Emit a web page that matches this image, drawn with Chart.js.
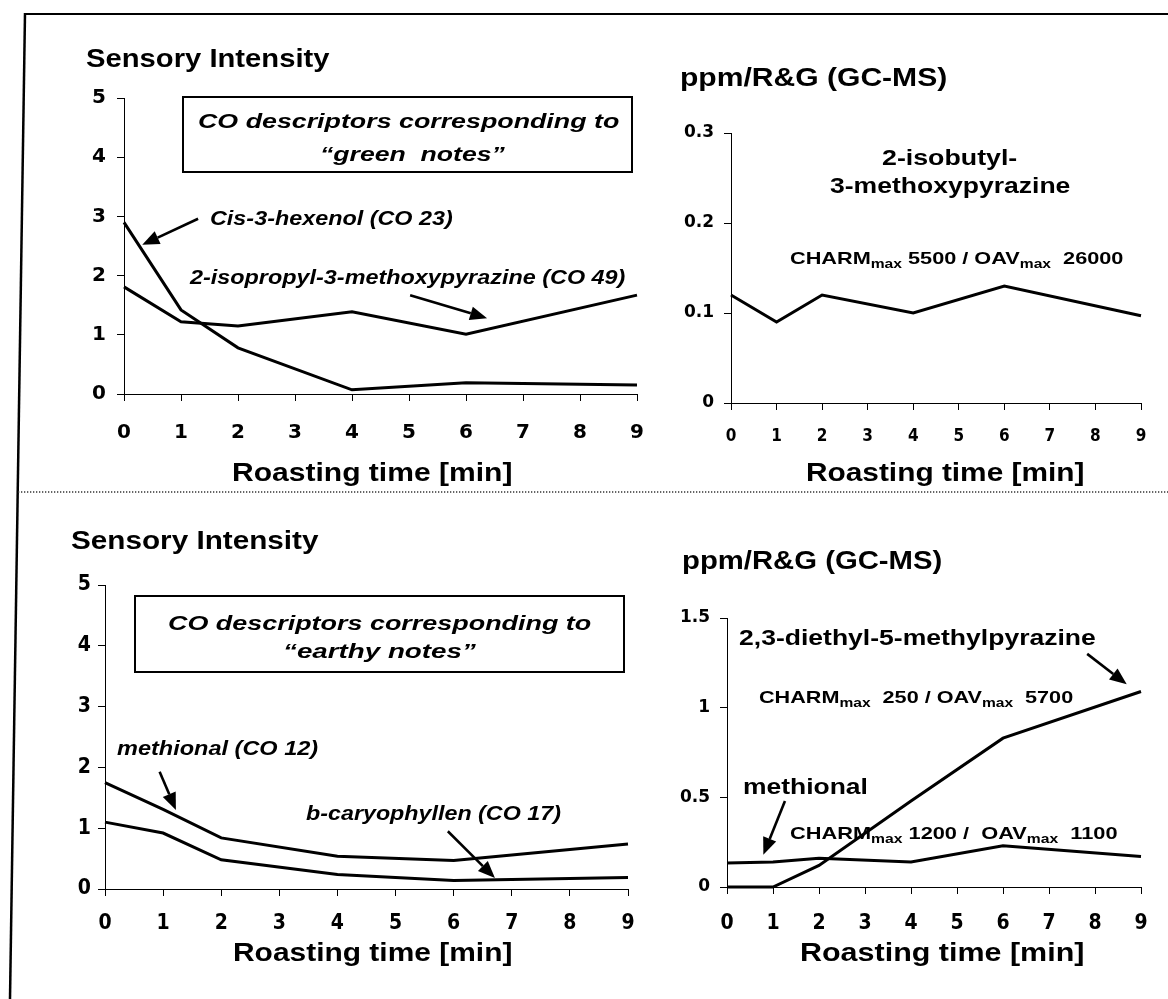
<!DOCTYPE html>
<html><head><meta charset="utf-8">
<script src="https://cdn.jsdelivr.net/npm/chart.js@4.4.0/dist/chart.umd.min.js"></script>
<style>
html,body{margin:0;padding:0;background:#fff;}
#wrap{position:relative;width:1168px;height:999px;overflow:hidden;background:#fff;}
canvas.c{position:absolute;left:0;top:0;}
.t{position:absolute;white-space:nowrap;line-height:1;color:#000;font-family:"Liberation Sans",Arial,sans-serif;font-weight:bold;transform-origin:0 50%;}
.i{font-style:italic;}
.box{position:absolute;border:2px solid #000;box-sizing:border-box;}
.t sub{font-size:0.72em;vertical-align:-0.35em;line-height:0;}
</style></head>
<body><div id="wrap">
<svg width="1168" height="999" style="position:absolute;left:0;top:0">
<line x1="25" y1="14" x2="1168" y2="14" stroke="#000" stroke-width="2"/>
<line x1="25" y1="13" x2="10" y2="999" stroke="#000" stroke-width="2.5"/>
<line x1="18" y1="492" x2="1168" y2="492" stroke="#333" stroke-width="1.3" stroke-dasharray="1.3 1.7"/>
</svg>
<canvas class="c" id="c1" width="1168" height="999"></canvas>
<canvas class="c" id="c2" width="1168" height="999"></canvas>
<canvas class="c" id="c3" width="1168" height="999"></canvas>
<canvas class="c" id="c4" width="1168" height="999"></canvas>
</div>
<script>
// ---------- data ----------
const roastTimes = [0, 1, 2, 4, 6, 9];
const xTickLabels = [0, 1, 2, 3, 4, 5, 6, 7, 8, 9];
const sensoryTicks = [0, 1, 2, 3, 4, 5];
const gcmsTicksTop = [0, 0.1, 0.2, 0.3];
const gcmsTicksBottom = [0, 0.5, 1, 1.5];
const cis3Hexenol = [2.9, 1.42, 0.78, 0.07, 0.19, 0.15];
const isopropylMethoxypyrazine = [1.81, 1.22, 1.15, 1.39, 1.01, 1.67];
const isobutylMethoxypyrazine = [0.12, 0.09, 0.12, 0.10, 0.13, 0.097];
const methionalSensory = [1.75, 1.31, 0.84, 0.54, 0.47, 0.74];
const caryophyllenSensory = [1.10, 0.92, 0.48, 0.24, 0.14, 0.19];
const diethylMethylpyrazine = [0, 0, 0.12, 0.48, 0.83, 1.09];
const methionalGCMS = [0.134, 0.14, 0.16, 0.14, 0.23, 0.17];

// ---------- helpers ----------
const W = 1168, H = 999;
const wrap = document.getElementById('wrap');
const arrowSets = {};
const arrowPlugin = {
  id: 'arrowsAnno',
  afterDatasetsDraw(chart) {
    const list = arrowSets[chart.canvas.id] || [];
    const ctx = chart.ctx, xs = chart.scales.x, ys = chart.scales.y;
    ctx.save();
    ctx.strokeStyle = '#000'; ctx.fillStyle = '#000'; ctx.lineWidth = 2.6; ctx.lineCap = 'butt';
    list.forEach(a => {
      const x1 = xs.getPixelForValue(a[0]), y1 = ys.getPixelForValue(a[1]);
      const x2 = xs.getPixelForValue(a[2]), y2 = ys.getPixelForValue(a[3]);
      const ang = Math.atan2(y2 - y1, x2 - x1), hl = 17, hw = 7;
      const bx = x2 - hl * Math.cos(ang), by = y2 - hl * Math.sin(ang);
      ctx.beginPath(); ctx.moveTo(x1, y1); ctx.lineTo(bx, by); ctx.stroke();
      ctx.beginPath(); ctx.moveTo(x2, y2);
      ctx.lineTo(bx + hw * Math.sin(ang), by - hw * Math.cos(ang));
      ctx.lineTo(bx - hw * Math.sin(ang), by + hw * Math.cos(ang));
      ctx.closePath(); ctx.fill();
    });
    ctx.restore();
  }
};

function makeChart(id, area, yTicks, series, o) {
  arrowSets[id] = o.arrows;
  return new Chart(document.getElementById(id), {
    type: 'line',
    data: { datasets: series.map(s => ({
      data: roastTimes.map((x, i) => ({ x: x, y: s[i] })),
      borderColor: '#000', borderWidth: 3, pointRadius: 0, tension: 0, fill: false, clip: false,
      borderJoinStyle: 'miter'
    })) },
    options: {
      responsive: false, animation: false, events: [],
      layout: { padding: { left: area.l - o.yW, top: area.t, right: W - area.r, bottom: H - area.b - o.xH } },
      plugins: { legend: { display: false }, tooltip: { enabled: false } },
      scales: {
        x: {
          type: 'linear', min: 0, max: 9,
          afterBuildTicks: s => { s.ticks = xTickLabels.map(v => ({ value: v })); },
          afterFit: s => { s.height = o.xH; },
          ticks: { font: o.xFont, color: '#000', padding: o.xPad, maxRotation: 0, autoSkip: false,
                   callback: v => String(v) },
          grid: { drawOnChartArea: false, drawTicks: true, tickLength: 7, color: '#000', lineWidth: 1 },
          border: { display: true, color: '#000', width: 1 }
        },
        y: {
          type: 'linear', min: yTicks[0], max: yTicks[yTicks.length - 1],
          afterBuildTicks: s => { s.ticks = yTicks.map(v => ({ value: v })); },
          afterFit: s => { s.width = o.yW; },
          ticks: { font: o.yFont, color: '#000', padding: o.yPad, autoSkip: false,
                   callback: v => String(v) },
          grid: { drawOnChartArea: false, drawTicks: true, tickLength: 7, color: '#000', lineWidth: 1 },
          border: { display: true, color: '#000', width: 1 }
        }
      }
    },
    plugins: [arrowPlugin]
  });
}

function label(html, left, right, cy, size, italic) {
  const d = document.createElement('div');
  d.className = 't' + (italic ? ' i' : '');
  d.style.fontSize = size + 'px';
  d.innerHTML = html;
  wrap.appendChild(d);
  const w = d.offsetWidth, h = d.offsetHeight;
  d.style.left = left + 'px';
  d.style.top = (cy - h / 2) + 'px';
  d.style.transform = 'scaleX(' + ((right - left) / w).toFixed(4) + ')';
}
function box(l, t, r, b) {
  const d = document.createElement('div');
  d.className = 'box';
  d.style.left = l + 'px'; d.style.top = t + 'px';
  d.style.width = (r - l) + 'px'; d.style.height = (b - t) + 'px';
  wrap.appendChild(d);
}

const wide = '"DejaVu Sans", "Liberation Sans", sans-serif';
const narrow = '"Liberation Sans Narrow", "DejaVu Sans Condensed", "Liberation Sans", sans-serif';

// ---------- charts ----------
makeChart('c1', { l: 124, t: 98, r: 637, b: 394 }, sensoryTicks,
  [cis3Hexenol, isopropylMethoxypyrazine],
  { yW: 60, xH: 60, yPad: 11, xPad: 20,
    yFont: { family: wide, size: 20, weight: 'bold' }, xFont: { family: wide, size: 20, weight: 'bold' },
    arrows: [[1.30, 2.96, 0.32, 2.52], [5.02, 1.67, 6.37, 1.28]] });

makeChart('c2', { l: 731, t: 133, r: 1141, b: 403 }, gcmsTicksTop,
  [isobutylMethoxypyrazine],
  { yW: 60, xH: 50, yPad: 10, xPad: 16,
    yFont: { family: wide, size: 17, weight: 'bold' }, xFont: { family: narrow, size: 17, weight: 'bold' },
    arrows: [] });

makeChart('c3', { l: 105, t: 585, r: 628, b: 889 }, sensoryTicks,
  [methionalSensory, caryophyllenSensory],
  { yW: 50, xH: 60, yPad: 7, xPad: 15,
    yFont: { family: narrow, size: 21, weight: 'bold' }, xFont: { family: narrow, size: 21, weight: 'bold' },
    arrows: [[0.94, 1.93, 1.22, 1.30], [5.90, 0.95, 6.71, 0.18]] });

makeChart('c4', { l: 727, t: 618, r: 1141, b: 887 }, gcmsTicksBottom,
  [diethylMethylpyrazine, methionalGCMS],
  { yW: 60, xH: 60, yPad: 10, xPad: 17,
    yFont: { family: wide, size: 17, weight: 'bold' }, xFont: { family: narrow, size: 21, weight: 'bold' },
    arrows: [[7.83, 1.30, 8.69, 1.13], [1.26, 0.48, 0.79, 0.18]] });

// ---------- annotations ----------
// top-left
label('Sensory Intensity', 86, 329, 58, 25);
box(182, 96, 633, 173);
label('CO descriptors corresponding to', 198, 619, 120, 21, true);
label('\u201Cgreen&nbsp; notes\u201D', 320, 505, 153, 21, true);
label('Cis-3-hexenol (CO 23)', 210, 453, 218, 20, true);
label('2-isopropyl-3-methoxypyrazine (CO 49)', 190, 625, 277, 20, true);
label('Roasting time [min]', 232, 512, 472, 25);
// top-right
label('ppm/R&amp;G (GC-MS)', 680, 947, 77, 25);
label('2-isobutyl-', 882, 1017, 158, 22);
label('3-methoxypyrazine', 830, 1070, 186, 22);
label('CHARM<sub>max</sub> 5500 / OAV<sub>max</sub>&nbsp; 26000', 790, 1123, 258, 17);
label('Roasting time [min]', 806, 1084, 472, 25);
// bottom-left
label('Sensory Intensity', 71, 318, 540, 25);
box(134, 595, 625, 673);
label('CO descriptors corresponding to', 168, 591, 622, 21, true);
label('\u201Cearthy notes\u201D', 283, 476, 650, 21, true);
label('methional (CO 12)', 117, 318, 748, 20, true);
label('b-caryophyllen (CO 17)', 306, 561, 813, 20, true);
label('Roasting time [min]', 233, 512, 952, 25);
// bottom-right
label('ppm/R&amp;G (GC-MS)', 682, 942, 560, 25);
label('2,3-diethyl-5-methylpyrazine', 739, 1096, 638, 22);
label('CHARM<sub>max</sub>&nbsp; 250 / OAV<sub>max</sub>&nbsp; 5700', 759, 1073, 697, 17);
label('methional', 743, 868, 787, 22);
label('CHARM<sub>max</sub> 1200 /&nbsp; OAV<sub>max</sub>&nbsp; 1100', 790, 1118, 833, 17);
label('Roasting time [min]', 800, 1084, 952, 25);
</script>
</body></html>
